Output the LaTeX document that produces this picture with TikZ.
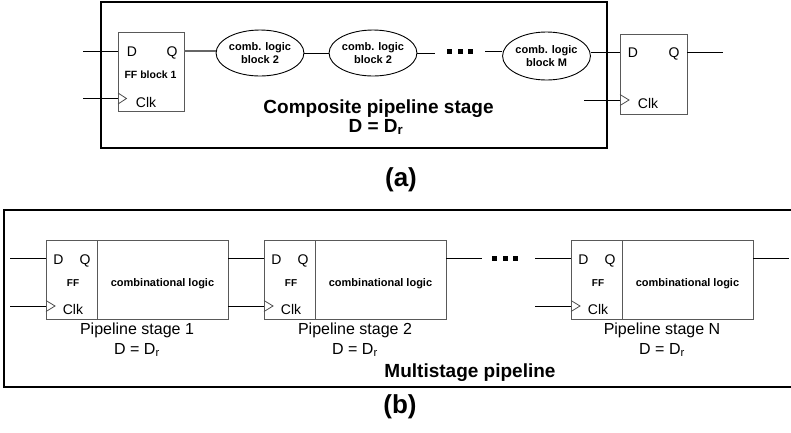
\documentclass[tikz,border=0pt]{standalone}
\usepackage{fontspec}
\setmainfont{Liberation Sans}
\usetikzlibrary{shapes.geometric}

\tikzset{
  frame/.style={draw=black, line width=1.8pt},
  regbox/.style={draw=black!65, line width=1pt, inner sep=0pt, outer sep=0pt, anchor=north west},
  logicblob/.style={ellipse, draw=black, line width=0.9pt, inner sep=0pt,
    minimum width=80pt, minimum height=46pt, align=center,
    font=\fontsize{11}{13}\selectfont\bfseries},
  wire/.style={draw=black, line width=0.9pt},
  clkmark/.style={draw=black!70, line width=0.8pt},
  pin/.style={inner sep=0pt, anchor=base, font=\fontsize{14}{16}\selectfont},
  ffname/.style={inner sep=0pt, anchor=base, font=\fontsize{10.5}{12}\selectfont\bfseries},
  lbl/.style={inner sep=0pt, anchor=base, font=\fontsize{16}{18}\selectfont},
  boldlbl/.style={inner sep=0pt, anchor=base, font=\fontsize{19}{21}\selectfont\bfseries},
  tag/.style={inner sep=0pt, font=\fontsize{26}{28}\selectfont\bfseries},
  gap/.style={inner sep=0pt, minimum height=4pt},
  dot/.style={fill=black}
}

\begin{document}
\begin{tikzpicture}[x=1pt, y=-1pt]
\useasboundingbox (0,0) rectangle (791,432);

% ---------------- composite pipeline stage ----------------
\node[frame, inner sep=0pt, minimum width=506pt, minimum height=146pt, anchor=north west] (comp) at (100,1) {};

% first register
\node[regbox, minimum width=66pt, minimum height=79pt] (ffa) at (118,32) {};
\node[pin] (ffaD) at (132,56) {D};
\node[pin] (ffaQ) at (172,56) {Q};
\node[ffname] (ffaN) at (150.5,78) {FF block 1};
\node[pin] (ffaC) at (146,107) {Clk};
\draw[clkmark] (118,93) -- (126.5,98.5) -- (118,104);
\coordinate (ffad) at (118,51);
\coordinate (ffaq) at (184,51);
\coordinate (ffac) at (118,98.5);
\coordinate (ina) at (83,51);
\coordinate (inac) at (83,98.5);

% logic blocks
\node[logicblob] (lg1) at (260,53) {comb. logic\\block 2};
\node[logicblob] (lg2) at (373,53) {comb. logic\\block 2};
\node[gap, minimum width=50pt] (dotsa) at (460,51) {};
\node[logicblob, minimum width=79pt, minimum height=48pt] (lgM) at (546.5,56) {comb. logic\\block M};
\foreach \dx in {0,10.5,21} \fill[dot] (447+\dx,49) rectangle ++(5,4.5);

% output register
\node[regbox, minimum width=67pt, minimum height=80pt] (ffb) at (620,34) {};
\node[pin] (ffbD) at (633,57) {D};
\node[pin] (ffbQ) at (674,57) {Q};
\node[pin] (ffbC) at (648,108) {Clk};
\draw[clkmark] (620,94.5) -- (629,100) -- (620,105.5);
\coordinate (ffbd) at (620,52);
\coordinate (ffbq) at (687,52);
\coordinate (ffbc) at (620,100);
\coordinate (inbc) at (584,100);
\coordinate (outb) at (723,52);

% wiring
\draw[wire] (ina) -- (ffad);
\draw[wire] (inac) -- (ffac);
\draw[wire, draw=black!60, line width=1.4pt] (ffaq) -- (lg1.west |- ffaq);
\draw[wire] (lg1.east) -- (lg2.west);
\draw[wire] (lg2.east) -- (lg2.east -| dotsa.west);
\draw[wire] (dotsa.east) -- (dotsa.east -| lgM.west);
\draw[wire] (lgM.east |- ffbd) -- (ffbd);
\draw[wire] (inbc) -- (ffbc);
\draw[wire] (ffbq) -- (outb);

\node[boldlbl] (compname) at (378.5,113) {Composite pipeline stage};
\node[boldlbl] (compdelay) at (376,132) {D = D\textsubscript{r}};
\node[tag] (taga) at (401,179.5) {(a)};

% ---------------- multistage pipeline ----------------
\node[frame, inner sep=0pt, minimum width=794pt, minimum height=177pt, anchor=north west] (multi) at (3,209) {};

\foreach \s/\x/\name in {1/46/1, 2/264/2, N/571/N} {
  \node[regbox, minimum width=51pt, minimum height=79pt] (ff\s) at (\x,240) {};
  \node[regbox, minimum width=131pt, minimum height=79pt] (cl\s) at (ff\s.north east) {};
  \node[pin] (d\s) at (\x+12.5,264) {D};
  \node[pin] (q\s) at (\x+39,264) {Q};
  \node[ffname, font=\fontsize{10}{12}\selectfont\bfseries] (n\s) at (\x+27,286) {FF};
  \node[pin] (c\s) at (\x+27,314) {Clk};
  \node[ffname, font=\fontsize{11}{13}\selectfont\bfseries] (t\s) at (\x+116.5,286) {combinational logic};
  \draw[clkmark] (\x,300.5) -- (\x+9,306) -- (\x,311.5);
  \coordinate (din\s) at (\x,258);
  \coordinate (cin\s) at (\x,306);
  \node[lbl] (p\s) at (\x+91,334) {Pipeline stage \name};
  \node[lbl] (r\s) at (\x+91,354) {D = D\textsubscript{r}};
}

\coordinate (in1) at (10,258);
\coordinate (inc1) at (10,306);
\node[gap, minimum width=53pt] (dotsb) at (508.5,258) {};
\foreach \dx in {0,10.5,21} \fill[dot] (492+\dx,256) rectangle ++(5,5);
\coordinate (outN) at (789,258);

\draw[wire] (in1) -- (din1);
\draw[wire] (inc1) -- (cin1);
\draw[wire] (cl1.east |- din2) -- (din2);
\draw[wire] (cl1.east |- cin2) -- (cin2);
\draw[wire] (cl2.east |- dotsb) -- (dotsb.west);
\draw[wire] (dotsb.east) -- (dinN);
\draw[wire] (dotsb.east |- cinN) -- (cinN);
\draw[wire] (clN.east |- outN) -- (outN);

\node[boldlbl] (multiname) at (470,377) {Multistage pipeline};
\node[tag] (tagb) at (400,407) {(b)};
\end{tikzpicture}
\end{document}
